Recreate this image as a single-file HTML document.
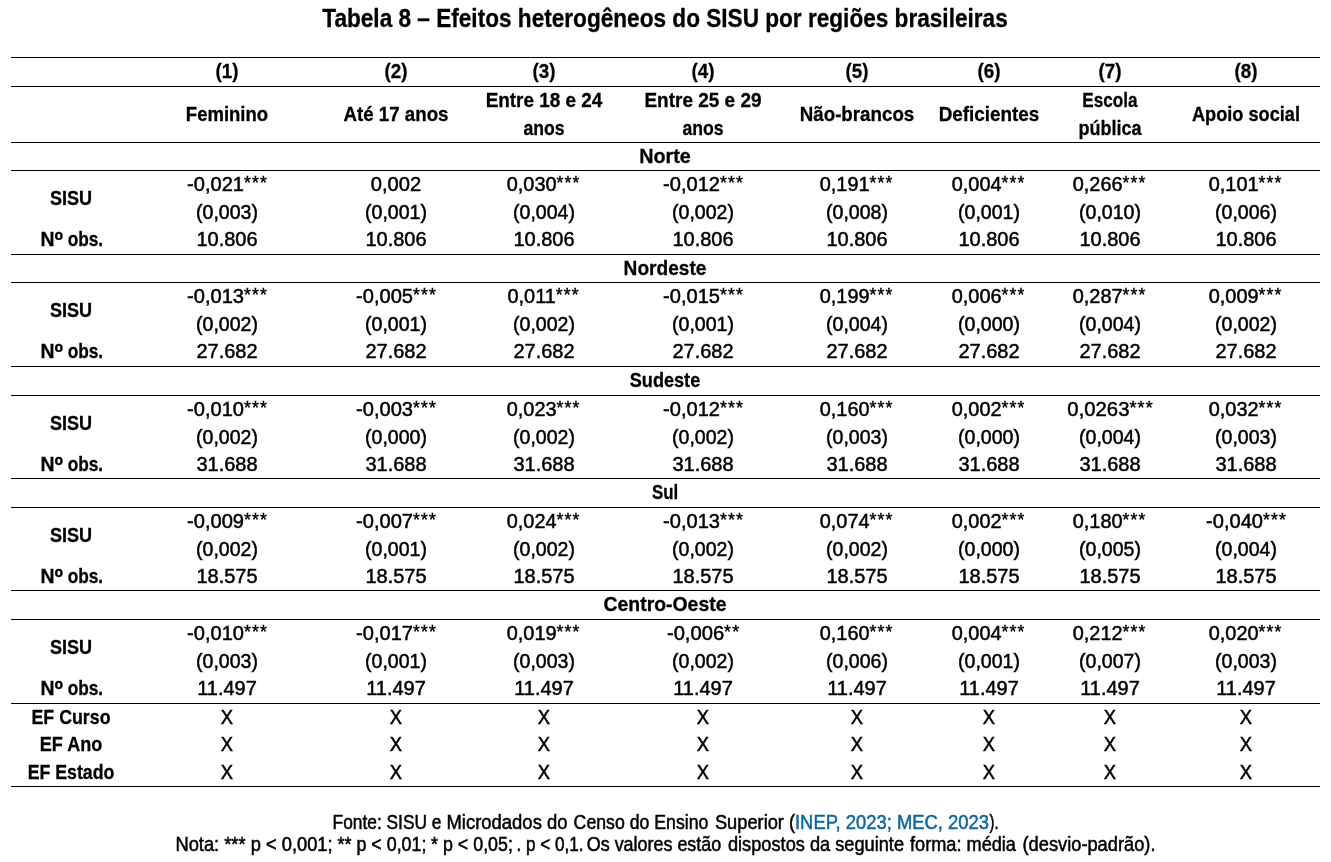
<!DOCTYPE html>
<html lang="pt-BR"><head><meta charset="utf-8"><title>Tabela 8</title>
<style>
html,body{margin:0;padding:0;background:#fff}
body{width:1331px;height:862px;position:relative;overflow:hidden;color:#000;
 font-family:"Liberation Sans",sans-serif;}
.l{position:absolute;left:11px;width:1309px;height:1px;background:#000}
.t{position:absolute;white-space:nowrap;line-height:1;transform-origin:50% 50%;display:block}
.r{font-size:20.9px;font-weight:400;-webkit-text-stroke:0.5px #000}
.b{font-size:20.4px;font-weight:700;-webkit-text-stroke:0.3px #000}
.bc{font-size:20.9px;font-weight:700;-webkit-text-stroke:0.3px #000}
.ti{font-size:25px;font-weight:700;-webkit-text-stroke:0.3px #000}
.f{font-size:19.3px;font-weight:400;-webkit-text-stroke:0.5px #000}
.a{font-size:0.88em;position:relative;top:-2px;letter-spacing:1.2px;margin-right:-1.2px;-webkit-text-stroke:0.45px #000}
.n1{display:inline-block;transform:scaleX(1.08);transform-origin:0 50%}
.n2{display:inline-block;transform:scaleX(0.96);transform-origin:100% 50%}
.o{font-size:1.2em;line-height:0;position:relative;top:3px}
.fp{margin:0}
.lk{color:#0b66a5;-webkit-text-stroke:0.5px #0b66a5}
</style></head><body>
<div class="l" style="top:57px"></div>
<div class="l" style="top:86px"></div>
<div class="l" style="top:142px"></div>
<div class="l" style="top:170px"></div>
<div class="l" style="top:254px"></div>
<div class="l" style="top:282px"></div>
<div class="l" style="top:366px"></div>
<div class="l" style="top:395px"></div>
<div class="l" style="top:478px"></div>
<div class="l" style="top:507px"></div>
<div class="l" style="top:590px"></div>
<div class="l" style="top:619px"></div>
<div class="l" style="top:703px"></div>
<div class="l" style="top:786px"></div>
<div class="t ti" style="left:665.20px;top:6.00px;transform:translateX(-50%) scaleX(0.9041)">Tabela 8 – Efeitos heterogêneos do SISU por regiões brasileiras</div>
<div class="t bc" style="left:227.00px;top:61.00px;transform:translateX(-50%) scaleX(0.9007)">(1)</div>
<div class="t bc" style="left:395.50px;top:61.00px;transform:translateX(-50%) scaleX(0.9007)">(2)</div>
<div class="t bc" style="left:543.60px;top:61.00px;transform:translateX(-50%) scaleX(0.9007)">(3)</div>
<div class="t bc" style="left:702.80px;top:61.00px;transform:translateX(-50%) scaleX(0.9007)">(4)</div>
<div class="t bc" style="left:857.30px;top:61.00px;transform:translateX(-50%) scaleX(0.9007)">(5)</div>
<div class="t bc" style="left:989.00px;top:61.00px;transform:translateX(-50%) scaleX(0.9007)">(6)</div>
<div class="t bc" style="left:1110.30px;top:61.00px;transform:translateX(-50%) scaleX(0.9007)">(7)</div>
<div class="t bc" style="left:1245.50px;top:61.00px;transform:translateX(-50%) scaleX(0.9007)">(8)</div>
<div class="t b" style="left:227.00px;top:104.00px;transform:translateX(-50%) scaleX(0.9077)">Feminino</div>
<div class="t b" style="left:395.50px;top:104.00px;transform:translateX(-50%) scaleX(0.9167)">Até 17 anos</div>
<div class="t b" style="left:543.60px;top:90.00px;transform:translateX(-50%) scaleX(0.9273)">Entre 18 e 24</div>
<div class="t b" style="left:543.60px;top:118.00px;transform:translateX(-50%) scaleX(0.8629)">anos</div>
<div class="t b" style="left:702.80px;top:90.00px;transform:translateX(-50%) scaleX(0.9310)">Entre 25 e 29</div>
<div class="t b" style="left:702.80px;top:118.00px;transform:translateX(-50%) scaleX(0.8629)">anos</div>
<div class="t b" style="left:857.30px;top:104.00px;transform:translateX(-50%) scaleX(0.9187)">Não-brancos</div>
<div class="t b" style="left:989.00px;top:104.00px;transform:translateX(-50%) scaleX(0.9258)">Deficientes</div>
<div class="t b" style="left:1110.30px;top:90.00px;transform:translateX(-50%) scaleX(0.8405)">Escola</div>
<div class="t b" style="left:1110.30px;top:118.00px;transform:translateX(-50%) scaleX(0.8842)">pública</div>
<div class="t b" style="left:1245.50px;top:104.00px;transform:translateX(-50%) scaleX(0.8910)">Apoio social</div>
<div class="t b" style="left:665.20px;top:146.00px;transform:translateX(-50%) scaleX(0.9695)">Norte</div>
<div class="t bc" style="left:71.30px;top:188.00px;transform:translateX(-50%) scaleX(0.8641)">SISU</div>
<div class="t b" style="left:72.00px;top:229.00px;transform:translateX(-50%) scaleX(0.8816)"><span class="n1">N<span class="o">º</span></span> <span class="n2">obs.</span></div>
<div class="t r" style="left:227.00px;top:174.00px;transform:translateX(-50%) scaleX(0.9611)">-0,021<span class="a">***</span></div>
<div class="t r" style="left:395.50px;top:174.00px;transform:translateX(-50%) scaleX(0.9643)">0,002</div>
<div class="t r" style="left:542.70px;top:174.00px;transform:translateX(-50%) scaleX(0.9523)">0,030<span class="a">***</span></div>
<div class="t r" style="left:702.80px;top:174.00px;transform:translateX(-50%) scaleX(0.9611)">-0,012<span class="a">***</span></div>
<div class="t r" style="left:856.40px;top:174.00px;transform:translateX(-50%) scaleX(0.9523)">0,191<span class="a">***</span></div>
<div class="t r" style="left:988.10px;top:174.00px;transform:translateX(-50%) scaleX(0.9523)">0,004<span class="a">***</span></div>
<div class="t r" style="left:1109.40px;top:174.00px;transform:translateX(-50%) scaleX(0.9523)">0,266<span class="a">***</span></div>
<div class="t r" style="left:1244.60px;top:174.00px;transform:translateX(-50%) scaleX(0.9523)">0,101<span class="a">***</span></div>
<div class="t r" style="left:227.00px;top:202.00px;transform:translateX(-50%) scaleX(0.9341)">(0,003)</div>
<div class="t r" style="left:395.50px;top:202.00px;transform:translateX(-50%) scaleX(0.9341)">(0,001)</div>
<div class="t r" style="left:543.60px;top:202.00px;transform:translateX(-50%) scaleX(0.9341)">(0,004)</div>
<div class="t r" style="left:702.80px;top:202.00px;transform:translateX(-50%) scaleX(0.9341)">(0,002)</div>
<div class="t r" style="left:857.30px;top:202.00px;transform:translateX(-50%) scaleX(0.9341)">(0,008)</div>
<div class="t r" style="left:989.00px;top:202.00px;transform:translateX(-50%) scaleX(0.9341)">(0,001)</div>
<div class="t r" style="left:1110.30px;top:202.00px;transform:translateX(-50%) scaleX(0.9341)">(0,010)</div>
<div class="t r" style="left:1245.50px;top:202.00px;transform:translateX(-50%) scaleX(0.9341)">(0,006)</div>
<div class="t r" style="left:227.00px;top:229.00px;transform:translateX(-50%) scaleX(0.9570)">10.806</div>
<div class="t r" style="left:395.50px;top:229.00px;transform:translateX(-50%) scaleX(0.9570)">10.806</div>
<div class="t r" style="left:543.60px;top:229.00px;transform:translateX(-50%) scaleX(0.9570)">10.806</div>
<div class="t r" style="left:702.80px;top:229.00px;transform:translateX(-50%) scaleX(0.9570)">10.806</div>
<div class="t r" style="left:857.30px;top:229.00px;transform:translateX(-50%) scaleX(0.9570)">10.806</div>
<div class="t r" style="left:989.00px;top:229.00px;transform:translateX(-50%) scaleX(0.9570)">10.806</div>
<div class="t r" style="left:1110.30px;top:229.00px;transform:translateX(-50%) scaleX(0.9570)">10.806</div>
<div class="t r" style="left:1245.50px;top:229.00px;transform:translateX(-50%) scaleX(0.9570)">10.806</div>
<div class="t b" style="left:665.20px;top:258.00px;transform:translateX(-50%) scaleX(0.9363)">Nordeste</div>
<div class="t bc" style="left:71.30px;top:300.00px;transform:translateX(-50%) scaleX(0.8641)">SISU</div>
<div class="t b" style="left:72.00px;top:341.00px;transform:translateX(-50%) scaleX(0.8816)"><span class="n1">N<span class="o">º</span></span> <span class="n2">obs.</span></div>
<div class="t r" style="left:227.00px;top:286.00px;transform:translateX(-50%) scaleX(0.9611)">-0,013<span class="a">***</span></div>
<div class="t r" style="left:395.50px;top:286.00px;transform:translateX(-50%) scaleX(0.9611)">-0,005<span class="a">***</span></div>
<div class="t r" style="left:542.70px;top:286.00px;transform:translateX(-50%) scaleX(0.9523)">0,011<span class="a">***</span></div>
<div class="t r" style="left:702.80px;top:286.00px;transform:translateX(-50%) scaleX(0.9611)">-0,015<span class="a">***</span></div>
<div class="t r" style="left:856.40px;top:286.00px;transform:translateX(-50%) scaleX(0.9523)">0,199<span class="a">***</span></div>
<div class="t r" style="left:988.10px;top:286.00px;transform:translateX(-50%) scaleX(0.9523)">0,006<span class="a">***</span></div>
<div class="t r" style="left:1109.40px;top:286.00px;transform:translateX(-50%) scaleX(0.9523)">0,287<span class="a">***</span></div>
<div class="t r" style="left:1244.60px;top:286.00px;transform:translateX(-50%) scaleX(0.9523)">0,009<span class="a">***</span></div>
<div class="t r" style="left:227.00px;top:314.00px;transform:translateX(-50%) scaleX(0.9341)">(0,002)</div>
<div class="t r" style="left:395.50px;top:314.00px;transform:translateX(-50%) scaleX(0.9341)">(0,001)</div>
<div class="t r" style="left:543.60px;top:314.00px;transform:translateX(-50%) scaleX(0.9341)">(0,002)</div>
<div class="t r" style="left:702.80px;top:314.00px;transform:translateX(-50%) scaleX(0.9341)">(0,001)</div>
<div class="t r" style="left:857.30px;top:314.00px;transform:translateX(-50%) scaleX(0.9341)">(0,004)</div>
<div class="t r" style="left:989.00px;top:314.00px;transform:translateX(-50%) scaleX(0.9341)">(0,000)</div>
<div class="t r" style="left:1110.30px;top:314.00px;transform:translateX(-50%) scaleX(0.9341)">(0,004)</div>
<div class="t r" style="left:1245.50px;top:314.00px;transform:translateX(-50%) scaleX(0.9341)">(0,002)</div>
<div class="t r" style="left:227.00px;top:341.00px;transform:translateX(-50%) scaleX(0.9570)">27.682</div>
<div class="t r" style="left:395.50px;top:341.00px;transform:translateX(-50%) scaleX(0.9570)">27.682</div>
<div class="t r" style="left:543.60px;top:341.00px;transform:translateX(-50%) scaleX(0.9570)">27.682</div>
<div class="t r" style="left:702.80px;top:341.00px;transform:translateX(-50%) scaleX(0.9570)">27.682</div>
<div class="t r" style="left:857.30px;top:341.00px;transform:translateX(-50%) scaleX(0.9570)">27.682</div>
<div class="t r" style="left:989.00px;top:341.00px;transform:translateX(-50%) scaleX(0.9570)">27.682</div>
<div class="t r" style="left:1110.30px;top:341.00px;transform:translateX(-50%) scaleX(0.9570)">27.682</div>
<div class="t r" style="left:1245.50px;top:341.00px;transform:translateX(-50%) scaleX(0.9570)">27.682</div>
<div class="t b" style="left:665.20px;top:370.00px;transform:translateX(-50%) scaleX(0.8880)">Sudeste</div>
<div class="t bc" style="left:71.30px;top:413.00px;transform:translateX(-50%) scaleX(0.8641)">SISU</div>
<div class="t b" style="left:72.00px;top:454.00px;transform:translateX(-50%) scaleX(0.8816)"><span class="n1">N<span class="o">º</span></span> <span class="n2">obs.</span></div>
<div class="t r" style="left:227.00px;top:399.00px;transform:translateX(-50%) scaleX(0.9611)">-0,010<span class="a">***</span></div>
<div class="t r" style="left:395.50px;top:399.00px;transform:translateX(-50%) scaleX(0.9611)">-0,003<span class="a">***</span></div>
<div class="t r" style="left:542.70px;top:399.00px;transform:translateX(-50%) scaleX(0.9523)">0,023<span class="a">***</span></div>
<div class="t r" style="left:702.80px;top:399.00px;transform:translateX(-50%) scaleX(0.9611)">-0,012<span class="a">***</span></div>
<div class="t r" style="left:856.40px;top:399.00px;transform:translateX(-50%) scaleX(0.9523)">0,160<span class="a">***</span></div>
<div class="t r" style="left:988.10px;top:399.00px;transform:translateX(-50%) scaleX(0.9523)">0,002<span class="a">***</span></div>
<div class="t r" style="left:1110.30px;top:399.00px;transform:translateX(-50%) scaleX(0.9716)">0,0263<span class="a">***</span></div>
<div class="t r" style="left:1244.60px;top:399.00px;transform:translateX(-50%) scaleX(0.9523)">0,032<span class="a">***</span></div>
<div class="t r" style="left:227.00px;top:427.00px;transform:translateX(-50%) scaleX(0.9341)">(0,002)</div>
<div class="t r" style="left:395.50px;top:427.00px;transform:translateX(-50%) scaleX(0.9341)">(0,000)</div>
<div class="t r" style="left:543.60px;top:427.00px;transform:translateX(-50%) scaleX(0.9341)">(0,002)</div>
<div class="t r" style="left:702.80px;top:427.00px;transform:translateX(-50%) scaleX(0.9341)">(0,002)</div>
<div class="t r" style="left:857.30px;top:427.00px;transform:translateX(-50%) scaleX(0.9341)">(0,003)</div>
<div class="t r" style="left:989.00px;top:427.00px;transform:translateX(-50%) scaleX(0.9341)">(0,000)</div>
<div class="t r" style="left:1110.30px;top:427.00px;transform:translateX(-50%) scaleX(0.9341)">(0,004)</div>
<div class="t r" style="left:1245.50px;top:427.00px;transform:translateX(-50%) scaleX(0.9341)">(0,003)</div>
<div class="t r" style="left:227.00px;top:454.00px;transform:translateX(-50%) scaleX(0.9570)">31.688</div>
<div class="t r" style="left:395.50px;top:454.00px;transform:translateX(-50%) scaleX(0.9570)">31.688</div>
<div class="t r" style="left:543.60px;top:454.00px;transform:translateX(-50%) scaleX(0.9570)">31.688</div>
<div class="t r" style="left:702.80px;top:454.00px;transform:translateX(-50%) scaleX(0.9570)">31.688</div>
<div class="t r" style="left:857.30px;top:454.00px;transform:translateX(-50%) scaleX(0.9570)">31.688</div>
<div class="t r" style="left:989.00px;top:454.00px;transform:translateX(-50%) scaleX(0.9570)">31.688</div>
<div class="t r" style="left:1110.30px;top:454.00px;transform:translateX(-50%) scaleX(0.9570)">31.688</div>
<div class="t r" style="left:1245.50px;top:454.00px;transform:translateX(-50%) scaleX(0.9570)">31.688</div>
<div class="t b" style="left:665.20px;top:482.00px;transform:translateX(-50%) scaleX(0.8243)">Sul</div>
<div class="t bc" style="left:71.30px;top:525.00px;transform:translateX(-50%) scaleX(0.8641)">SISU</div>
<div class="t b" style="left:72.00px;top:566.00px;transform:translateX(-50%) scaleX(0.8816)"><span class="n1">N<span class="o">º</span></span> <span class="n2">obs.</span></div>
<div class="t r" style="left:227.00px;top:511.00px;transform:translateX(-50%) scaleX(0.9611)">-0,009<span class="a">***</span></div>
<div class="t r" style="left:395.50px;top:511.00px;transform:translateX(-50%) scaleX(0.9611)">-0,007<span class="a">***</span></div>
<div class="t r" style="left:542.70px;top:511.00px;transform:translateX(-50%) scaleX(0.9523)">0,024<span class="a">***</span></div>
<div class="t r" style="left:702.80px;top:511.00px;transform:translateX(-50%) scaleX(0.9611)">-0,013<span class="a">***</span></div>
<div class="t r" style="left:856.40px;top:511.00px;transform:translateX(-50%) scaleX(0.9523)">0,074<span class="a">***</span></div>
<div class="t r" style="left:988.10px;top:511.00px;transform:translateX(-50%) scaleX(0.9523)">0,002<span class="a">***</span></div>
<div class="t r" style="left:1109.40px;top:511.00px;transform:translateX(-50%) scaleX(0.9523)">0,180<span class="a">***</span></div>
<div class="t r" style="left:1245.50px;top:511.00px;transform:translateX(-50%) scaleX(0.9611)">-0,040<span class="a">***</span></div>
<div class="t r" style="left:227.00px;top:539.00px;transform:translateX(-50%) scaleX(0.9341)">(0,002)</div>
<div class="t r" style="left:395.50px;top:539.00px;transform:translateX(-50%) scaleX(0.9341)">(0,001)</div>
<div class="t r" style="left:543.60px;top:539.00px;transform:translateX(-50%) scaleX(0.9341)">(0,002)</div>
<div class="t r" style="left:702.80px;top:539.00px;transform:translateX(-50%) scaleX(0.9341)">(0,002)</div>
<div class="t r" style="left:857.30px;top:539.00px;transform:translateX(-50%) scaleX(0.9341)">(0,002)</div>
<div class="t r" style="left:989.00px;top:539.00px;transform:translateX(-50%) scaleX(0.9341)">(0,000)</div>
<div class="t r" style="left:1110.30px;top:539.00px;transform:translateX(-50%) scaleX(0.9341)">(0,005)</div>
<div class="t r" style="left:1245.50px;top:539.00px;transform:translateX(-50%) scaleX(0.9341)">(0,004)</div>
<div class="t r" style="left:227.00px;top:566.00px;transform:translateX(-50%) scaleX(0.9570)">18.575</div>
<div class="t r" style="left:395.50px;top:566.00px;transform:translateX(-50%) scaleX(0.9570)">18.575</div>
<div class="t r" style="left:543.60px;top:566.00px;transform:translateX(-50%) scaleX(0.9570)">18.575</div>
<div class="t r" style="left:702.80px;top:566.00px;transform:translateX(-50%) scaleX(0.9570)">18.575</div>
<div class="t r" style="left:857.30px;top:566.00px;transform:translateX(-50%) scaleX(0.9570)">18.575</div>
<div class="t r" style="left:989.00px;top:566.00px;transform:translateX(-50%) scaleX(0.9570)">18.575</div>
<div class="t r" style="left:1110.30px;top:566.00px;transform:translateX(-50%) scaleX(0.9570)">18.575</div>
<div class="t r" style="left:1245.50px;top:566.00px;transform:translateX(-50%) scaleX(0.9570)">18.575</div>
<div class="t b" style="left:665.20px;top:594.00px;transform:translateX(-50%) scaleX(0.9519)">Centro-Oeste</div>
<div class="t bc" style="left:71.30px;top:637.00px;transform:translateX(-50%) scaleX(0.8641)">SISU</div>
<div class="t b" style="left:72.00px;top:678.00px;transform:translateX(-50%) scaleX(0.8816)"><span class="n1">N<span class="o">º</span></span> <span class="n2">obs.</span></div>
<div class="t r" style="left:227.00px;top:623.00px;transform:translateX(-50%) scaleX(0.9611)">-0,010<span class="a">***</span></div>
<div class="t r" style="left:395.50px;top:623.00px;transform:translateX(-50%) scaleX(0.9611)">-0,017<span class="a">***</span></div>
<div class="t r" style="left:542.70px;top:623.00px;transform:translateX(-50%) scaleX(0.9523)">0,019<span class="a">***</span></div>
<div class="t r" style="left:702.80px;top:623.00px;transform:translateX(-50%) scaleX(0.9653)">-0,006<span class="a">**</span></div>
<div class="t r" style="left:856.40px;top:623.00px;transform:translateX(-50%) scaleX(0.9523)">0,160<span class="a">***</span></div>
<div class="t r" style="left:988.10px;top:623.00px;transform:translateX(-50%) scaleX(0.9523)">0,004<span class="a">***</span></div>
<div class="t r" style="left:1109.40px;top:623.00px;transform:translateX(-50%) scaleX(0.9523)">0,212<span class="a">***</span></div>
<div class="t r" style="left:1244.60px;top:623.00px;transform:translateX(-50%) scaleX(0.9523)">0,020<span class="a">***</span></div>
<div class="t r" style="left:227.00px;top:651.00px;transform:translateX(-50%) scaleX(0.9341)">(0,003)</div>
<div class="t r" style="left:395.50px;top:651.00px;transform:translateX(-50%) scaleX(0.9341)">(0,001)</div>
<div class="t r" style="left:543.60px;top:651.00px;transform:translateX(-50%) scaleX(0.9341)">(0,003)</div>
<div class="t r" style="left:702.80px;top:651.00px;transform:translateX(-50%) scaleX(0.9341)">(0,002)</div>
<div class="t r" style="left:857.30px;top:651.00px;transform:translateX(-50%) scaleX(0.9341)">(0,006)</div>
<div class="t r" style="left:989.00px;top:651.00px;transform:translateX(-50%) scaleX(0.9341)">(0,001)</div>
<div class="t r" style="left:1110.30px;top:651.00px;transform:translateX(-50%) scaleX(0.9341)">(0,007)</div>
<div class="t r" style="left:1245.50px;top:651.00px;transform:translateX(-50%) scaleX(0.9341)">(0,003)</div>
<div class="t r" style="left:227.00px;top:678.00px;transform:translateX(-50%) scaleX(0.9570)">11.497</div>
<div class="t r" style="left:395.50px;top:678.00px;transform:translateX(-50%) scaleX(0.9570)">11.497</div>
<div class="t r" style="left:543.60px;top:678.00px;transform:translateX(-50%) scaleX(0.9570)">11.497</div>
<div class="t r" style="left:702.80px;top:678.00px;transform:translateX(-50%) scaleX(0.9570)">11.497</div>
<div class="t r" style="left:857.30px;top:678.00px;transform:translateX(-50%) scaleX(0.9570)">11.497</div>
<div class="t r" style="left:989.00px;top:678.00px;transform:translateX(-50%) scaleX(0.9570)">11.497</div>
<div class="t r" style="left:1110.30px;top:678.00px;transform:translateX(-50%) scaleX(0.9570)">11.497</div>
<div class="t r" style="left:1245.50px;top:678.00px;transform:translateX(-50%) scaleX(0.9570)">11.497</div>
<div class="t b" style="left:71.30px;top:707.00px;transform:translateX(-50%) scaleX(0.8717)">EF Curso</div>
<div class="t r" style="left:227.00px;top:707.00px;transform:translateX(-50%) scaleX(0.8795)">X</div>
<div class="t r" style="left:395.50px;top:707.00px;transform:translateX(-50%) scaleX(0.8795)">X</div>
<div class="t r" style="left:543.60px;top:707.00px;transform:translateX(-50%) scaleX(0.8795)">X</div>
<div class="t r" style="left:702.80px;top:707.00px;transform:translateX(-50%) scaleX(0.8795)">X</div>
<div class="t r" style="left:857.30px;top:707.00px;transform:translateX(-50%) scaleX(0.8795)">X</div>
<div class="t r" style="left:989.00px;top:707.00px;transform:translateX(-50%) scaleX(0.8795)">X</div>
<div class="t r" style="left:1110.30px;top:707.00px;transform:translateX(-50%) scaleX(0.8795)">X</div>
<div class="t r" style="left:1245.50px;top:707.00px;transform:translateX(-50%) scaleX(0.8795)">X</div>
<div class="t b" style="left:71.30px;top:734.00px;transform:translateX(-50%) scaleX(0.8859)">EF Ano</div>
<div class="t r" style="left:227.00px;top:734.00px;transform:translateX(-50%) scaleX(0.8795)">X</div>
<div class="t r" style="left:395.50px;top:734.00px;transform:translateX(-50%) scaleX(0.8795)">X</div>
<div class="t r" style="left:543.60px;top:734.00px;transform:translateX(-50%) scaleX(0.8795)">X</div>
<div class="t r" style="left:702.80px;top:734.00px;transform:translateX(-50%) scaleX(0.8795)">X</div>
<div class="t r" style="left:857.30px;top:734.00px;transform:translateX(-50%) scaleX(0.8795)">X</div>
<div class="t r" style="left:989.00px;top:734.00px;transform:translateX(-50%) scaleX(0.8795)">X</div>
<div class="t r" style="left:1110.30px;top:734.00px;transform:translateX(-50%) scaleX(0.8795)">X</div>
<div class="t r" style="left:1245.50px;top:734.00px;transform:translateX(-50%) scaleX(0.8795)">X</div>
<div class="t b" style="left:71.30px;top:762.00px;transform:translateX(-50%) scaleX(0.8700)">EF Estado</div>
<div class="t r" style="left:227.00px;top:762.00px;transform:translateX(-50%) scaleX(0.8795)">X</div>
<div class="t r" style="left:395.50px;top:762.00px;transform:translateX(-50%) scaleX(0.8795)">X</div>
<div class="t r" style="left:543.60px;top:762.00px;transform:translateX(-50%) scaleX(0.8795)">X</div>
<div class="t r" style="left:702.80px;top:762.00px;transform:translateX(-50%) scaleX(0.8795)">X</div>
<div class="t r" style="left:857.30px;top:762.00px;transform:translateX(-50%) scaleX(0.8795)">X</div>
<div class="t r" style="left:989.00px;top:762.00px;transform:translateX(-50%) scaleX(0.8795)">X</div>
<div class="t r" style="left:1110.30px;top:762.00px;transform:translateX(-50%) scaleX(0.8795)">X</div>
<div class="t r" style="left:1245.50px;top:762.00px;transform:translateX(-50%) scaleX(0.8795)">X</div>
<p class="fp"><span class="t f" style="left:386.95px;top:813px;transform:translateX(-50%) scaleX(0.8991)">Fonte: SISU e</span>
<span class="t f" style="left:506.90px;top:813px;transform:translateX(-50%) scaleX(0.9569)">Microdados do</span>
<span class="t f" style="left:641.20px;top:813px;transform:translateX(-50%) scaleX(0.9176)">Censo do Ensino</span>
<span class="t f" style="left:754.50px;top:813px;transform:translateX(-50%) scaleX(0.9473)">Superior (</span>
<span class="t f lk" style="left:892.40px;top:813px;transform:translateX(-50%) scaleX(0.9544)">INEP, 2023; MEC, 2023</span>
<span class="t f" style="left:993.95px;top:813px;transform:translateX(-50%) scaleX(0.7611)">).</span>
</p>
<p class="fp"><span class="t f" style="left:254.25px;top:835px;transform:translateX(-50%) scaleX(0.9489)">Nota: *** p &lt; 0,001;</span>
<span class="t f" style="left:381.75px;top:835px;transform:translateX(-50%) scaleX(0.9254)">** p &lt; 0,01;</span>
<span class="t f" style="left:471.60px;top:835px;transform:translateX(-50%) scaleX(0.9251)">* p &lt; 0,05;</span>
<span class="t f" style="left:549.65px;top:835px;transform:translateX(-50%) scaleX(0.8874)">. p &lt; 0,1.</span>
<span class="t f" style="left:654.38px;top:835px;transform:translateX(-50%) scaleX(0.9292)">Os valores estão</span>
<span class="t f" style="left:815.70px;top:835px;transform:translateX(-50%) scaleX(0.9441)">dispostos da seguinte</span>
<span class="t f" style="left:962.90px;top:835px;transform:translateX(-50%) scaleX(0.9411)">forma: média</span>
<span class="t f" style="left:1088.55px;top:835px;transform:translateX(-50%) scaleX(0.9473)">(desvio-padrão).</span>
</p>
</body></html>
